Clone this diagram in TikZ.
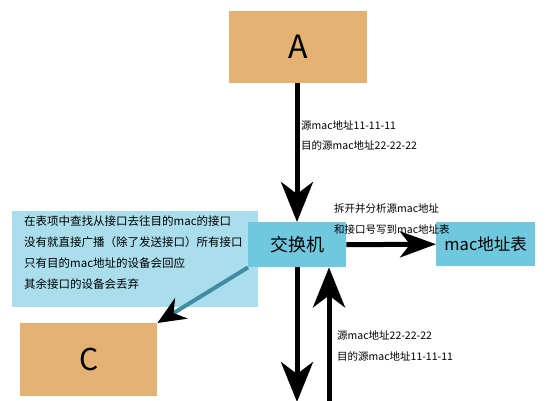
\documentclass[tikz,border=0pt]{standalone}
\usepackage{fontspec}
\setmainfont{Noto Sans CJK SC}
\usetikzlibrary{arrows.meta}
\definecolor{tan}{RGB}{227,178,114}
\definecolor{swblue}{RGB}{112,200,222}
\definecolor{noteblue}{RGB}{170,222,236}
\definecolor{teal2}{RGB}{66,140,162}
\tikzset{
  tanbox/.style={fill=tan,draw=none,inner sep=0pt,anchor=north west},
  bluebox/.style={fill=swblue,draw=none,inner sep=0pt,anchor=north west},
  lbl/.style={font=\fontsize{10.5}{12}\selectfont,anchor=west,inner sep=0pt},
  bigarrow/.style={line width=5pt,-{Stealth[length=40pt,width=32pt,inset=12pt]}},
}
\begin{document}
\begin{tikzpicture}[x=1pt,y=-1pt]
\useasboundingbox (0,0) rectangle (549,400);
% boxes
\node[tanbox,minimum width=138pt,minimum height=72pt] (A) at (229,11) {};
\node[font=\fontsize{32}{36}\selectfont] at (A.center) {A};
\node[fill=noteblue,inner sep=0pt,anchor=north west,minimum width=246pt,minimum height=96pt] (note) at (12,211) {};
\node[anchor=north west,inner sep=0pt,align=left,font=\fontsize{11.5}{21}\selectfont] (notetext) at (24,216) {在表项中查找从接口去往目的mac的接口\\没有就直接广播（除了发送接口）所有接口\\只有目的mac地址的设备会回应\\其余接口的设备会丢弃};
\node[bluebox,minimum width=98pt,minimum height=45pt] (sw) at (248,222) {};
\node[font=\fontsize{18}{20}\selectfont] at (sw.center) {交换机};
\node[bluebox,minimum width=99pt,minimum height=44pt] (mac) at (436,222) {};
\node[font=\fontsize{16.5}{18}\selectfont] at (mac.center) {mac地址表};
\node[tanbox,minimum width=137pt,minimum height=73pt] (C) at (20,323) {};
\node[font=\fontsize{30}{34}\selectfont] at (C.center) {C};
% connectors
\coordinate (bot1) at (297,402);
\coordinate (bot2) at (329,402);
\draw[bigarrow] (A.south -| bot1) -- (sw.north -| bot1);
\draw[line width=5pt,-{Stealth[length=36pt,width=26pt,inset=10pt]}] (sw.east) -- (mac.west);
\draw[bigarrow] (sw.south -| bot1) -- (bot1);
\draw[bigarrow] (bot2) -- (sw.south -| bot2);
\draw[teal2,line width=4pt,-{Stealth[length=28pt,width=24pt,inset=9pt,color=black]}] (sw.south west) -- (C.north east);
% labels
\node[lbl] (l1) at (301,126) {源mac地址11-11-11};
\node[lbl] (l2) at (301,145) {目的源mac地址22-22-22};
\node[lbl] (l3) at (334,209) {拆开并分析源mac地址};
\node[lbl] (l4) at (334,230) {和接口号写到mac地址表};
\node[lbl] (l5) at (337,336) {源mac地址22-22-22};
\node[lbl] (l6) at (337,356) {目的源mac地址11-11-11};
\end{tikzpicture}
\end{document}
